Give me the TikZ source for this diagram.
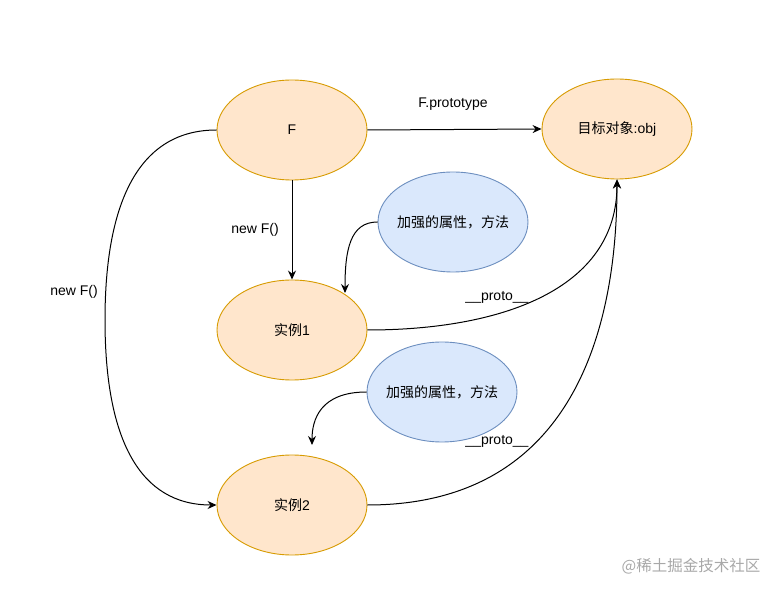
\documentclass[tikz,border=0pt]{standalone}
\usepackage{fontspec}
\setmainfont{Liberation Sans}
\newfontfamily\cjk{Noto Sans CJK SC}
\usetikzlibrary{shapes.geometric,arrows.meta}
\definecolor{ofill}{HTML}{FFE6CC}
\definecolor{odraw}{HTML}{D79B00}
\definecolor{bfill}{HTML}{DAE8FC}
\definecolor{bdraw}{HTML}{6C8EBF}
\definecolor{wm}{HTML}{A8A8A8}
\tikzset{
  orangeell/.style={ellipse, draw=odraw, fill=ofill, line width=0.9pt, minimum width=150pt, minimum height=100pt, inner sep=0pt, font=\fontsize{14}{16}\selectfont},
  blueell/.style={ellipse, draw=bdraw, fill=bfill, line width=0.9pt, minimum width=150pt, minimum height=100pt, inner sep=0pt, inner xsep=-5pt, font=\fontsize{14}{16}\selectfont},
  conn/.style={line width=1pt, -{Stealth[length=9pt,width=8pt,inset=3pt]}},
  lbl/.style={font=\fontsize{14}{16}\selectfont, inner sep=1pt}
}
\begin{document}
\begin{tikzpicture}[x=1pt,y=-1pt]
\useasboundingbox (0,0) rectangle (782,593);
\node[orangeell] (F) at (292,130) {F};
\node[orangeell] (obj) at (617,129) {{\cjk 目标对象}:obj};
\node[orangeell] (i1) at (292,330) {{\cjk 实例}1};
\node[orangeell] (i2) at (292,505) {{\cjk 实例}2};
\node[blueell] (b1) at (453,222) {\cjk 加强的属性，方法};
\node[blueell] (b2) at (442,392) {\cjk 加强的属性，方法};
\coordinate (b1end) at (345,293);
\coordinate (b2end) at (312,445);
\coordinate (mid) at (105,320);

\draw[conn] (F.east) -- (obj.west);
\draw[conn] (F.south) -- (i1.north);
\draw[conn] (F.west) .. controls (140,130) and (105,200) .. (mid) .. controls (105,440) and (140,505) .. (i2.west);
\draw[conn] (b1.west) .. controls (350,222) and (345,250) .. (b1end);
\draw[conn] (b2.west) .. controls (320,392) and (312,420) .. (b2end);
\draw[conn] (i1.east) .. controls (500,330) and (617,290) .. (obj.south);
\draw[conn] (i2.east) .. controls (560,505) and (617,350) .. (obj.south);

\node[lbl] (l1) at (453,104) {F.prototype};
\node[lbl] (l2) at (255,230) {new F()};
\node[lbl] (l3) at (74,292) {new F()};
\node[lbl] (l4) at (497,297) {\_\_proto\_\_};
\node[lbl] (l5) at (497,441) {\_\_proto\_\_};
\node[font=\cjk\fontsize{15.5}{18}\selectfont, text=wm] (wmk) at (691,566) {@稀土掘金技术社区};
\end{tikzpicture}
\end{document}
